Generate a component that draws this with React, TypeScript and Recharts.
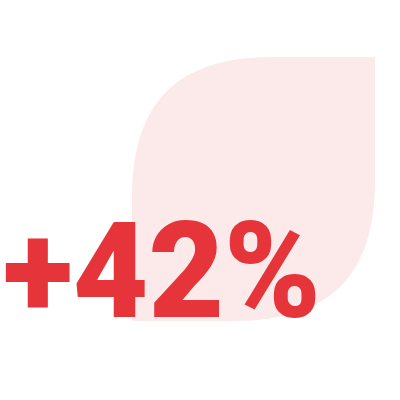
import { BarChart, Bar, XAxis, YAxis, LabelList } from "recharts";

const categories = ["Growth"];
const values = [42];
const labels = ["+42%"];

const data = categories.map((name, i) => ({ name, value: values[i], label: labels[i] }));

// leaf: rounded top-left and bottom-right, sharp top-right and bottom-left
function Leaf(props: any) {
  const { x, y, width, height, fill } = props;
  const r = Math.min(width, height) * 0.58;
  const c = r * 0.32;
  const d = [
    `M ${x} ${y + height}`,
    `L ${x} ${y + r}`,
    `C ${x} ${y + c} ${x + c} ${y} ${x + r} ${y}`,
    `L ${x + width} ${y}`,
    `L ${x + width} ${y + height - r}`,
    `C ${x + width} ${y + height - c} ${x + width - c} ${y + height} ${x + width - r} ${y + height}`,
    "Z",
  ].join(" ");
  return <path d={d} fill={fill} />;
}

function BigLabel(props: any) {
  const { x, y, height, value } = props;
  return (
    <text
      x={x - 129}
      y={y + height - 4}
      fill="#E6343B"
      fontFamily="Roboto, Arial, sans-serif"
      fontWeight={900}
      fontSize={134}
      textLength={318}
      lengthAdjust="spacingAndGlyphs"
    >
      {value}
    </text>
  );
}

export default function App() {
  return (
    <div style={{ position: "absolute", left: 0, top: 0, width: 400, height: 400, background: "#fff" }}>
      <BarChart
        width={400}
        height={400}
        data={data}
        margin={{ top: 57, right: 25, left: 132, bottom: 79 }}
        barCategoryGap={0}
      >
        <XAxis dataKey="name" hide />
        <YAxis hide domain={[0, 42]} />
        <Bar dataKey="value" fill="#FCE9EA" shape={<Leaf />} isAnimationActive={false}>
          <LabelList dataKey="label" content={<BigLabel />} />
        </Bar>
      </BarChart>
    </div>
  );
}
